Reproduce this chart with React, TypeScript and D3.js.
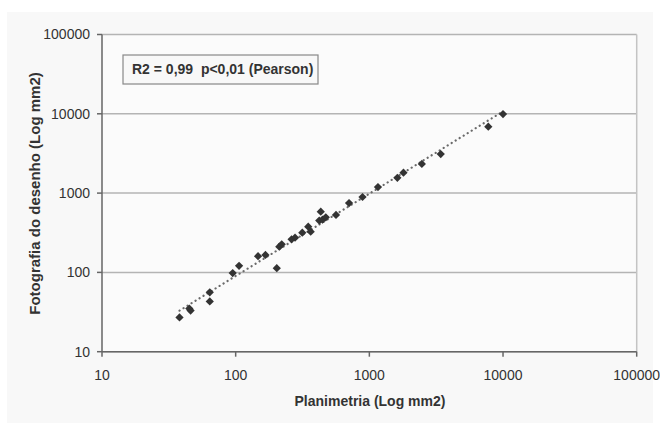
import React from "react";
import * as d3 from "d3";

const planimetria = [38, 45, 46, 64, 64, 95, 106, 147, 167, 203, 212, 221, 262, 278, 315, 349, 364, 433, 422, 446, 472, 563, 705, 889, 1160, 1620, 1800, 2470, 3420, 7760, 10000];
const fotografia = [27, 35, 33, 56, 43, 98, 121, 160, 166, 113, 211, 226, 261, 274, 317, 377, 326, 582, 450, 462, 495, 530, 750, 893, 1190, 1560, 1810, 2330, 3110, 6870, 9940];
const xTicks = [10, 100, 1000, 10000, 100000];
const yTicks = [10, 100, 1000, 10000, 100000];
const xTitle = "Planimetria (Log mm2)";
const yTitle = "Fotografia do desenho (Log mm2)";
const note = "R2 = 0,99  p<0,01 (Pearson)";

const W = 660, H = 429;
const L = 102, R = 636.7, T = 34.5, B = 351.7;
const font = "'Liberation Sans', Arial, sans-serif";

export default function App() {
  const x = d3.scaleLog().domain([10, 100000]).range([L, R]);
  const y = d3.scaleLog().domain([10, 100000]).range([B, T]);

  // power trendline (least squares in log space)
  const lx = planimetria.map(Math.log10);
  const ly = fotografia.map(Math.log10);
  const mx = d3.mean(lx)!, my = d3.mean(ly)!;
  let num = 0, den = 0;
  lx.forEach((v, i) => { num += (v - mx) * (ly[i] - my); den += (v - mx) * (v - mx); });
  const b = num / den;
  const a = my - b * mx;
  const xmin = d3.min(planimetria)!, xmax = d3.max(planimetria)!;
  const trendPts = d3.range(0, 41).map(i => {
    const xv = Math.pow(10, Math.log10(xmin) + (Math.log10(xmax) - Math.log10(xmin)) * i / 40);
    return [xv, Math.pow(10, a + b * Math.log10(xv))] as [number, number];
  });
  const line = d3.line<[number, number]>().x(d => x(d[0])).y(d => y(d[1]));
  const sym = d3.symbol().type(d3.symbolSquare).size(34)();

  return (
    <svg width={W} height={H} style={{ position: "absolute", left: 0, top: 0, background: "#fff" }}>
      <rect x={7} y={12} width={646} height={411} fill="#f8f8f8" />
      <rect x={L} y={T} width={R - L} height={B - T} fill="#fbfbfb" />
      {yTicks.map(t => (
        <line key={"g" + t} x1={L} x2={R} y1={y(t)} y2={y(t)} stroke="#b4b4b4" strokeWidth={1.5} />
      ))}
      <line x1={R} x2={R} y1={T} y2={B} stroke="#c4c4c4" strokeWidth={1.5} />
      <line x1={L} x2={L} y1={T} y2={B} stroke="#666" strokeWidth={1.5} />
      <line x1={L} x2={R} y1={B} y2={B} stroke="#666" strokeWidth={1.5} />
      {yTicks.map(t => (
        <g key={"yt" + t}>
          <line x1={L - 5} x2={L} y1={y(t)} y2={y(t)} stroke="#666" strokeWidth={1.5} />
          <text x={90} y={y(t)} dy="0.35em" textAnchor="end" fontFamily={font} fontSize={14} fill="#333">{t}</text>
        </g>
      ))}
      {xTicks.map(t => (
        <g key={"xt" + t}>
          <line x1={x(t)} x2={x(t)} y1={B} y2={B + 5} stroke="#666" strokeWidth={1.5} />
          <text x={x(t)} y={375} dy="0.35em" textAnchor="middle" fontFamily={font} fontSize={14} fill="#333">{t}</text>
        </g>
      ))}
      <path d={line(trendPts)!} fill="none" stroke="#6a6a6a" strokeWidth={2.2} strokeDasharray="0.1 4.6" strokeLinecap="round" />
      {planimetria.map((v, i) => (
        <path key={"p" + i} d={sym} transform={`translate(${x(v)},${y(fotografia[i])}) rotate(45)`} fill="#333" />
      ))}
      <rect x={123} y={55} width={195} height={29} fill="#f8f8f8" stroke="#888" strokeWidth={1.2} />
      <text x={132} y={69.5} dy="0.35em" fontFamily={font} fontSize={14} fontWeight="bold" fill="#333" style={{ whiteSpace: "pre" }}>{note}</text>
      <text x={370} y={401} dy="0.35em" textAnchor="middle" fontFamily={font} fontSize={14} fontWeight="bold" fill="#333">{xTitle}</text>
      <text transform={`translate(35,193.5) rotate(-90)`} dy="0.35em" textAnchor="middle" fontFamily={font} fontSize={15} fontWeight="bold" fill="#333">{yTitle}</text>
    </svg>
  );
}
